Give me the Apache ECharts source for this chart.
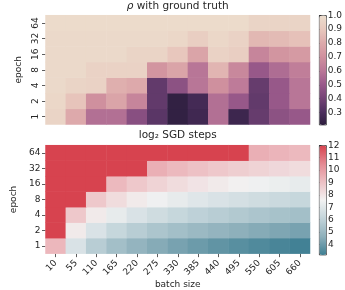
<!DOCTYPE html>
<html>
<head>
<meta charset="utf-8">
<script src="https://cdn.jsdelivr.net/npm/echarts@6/dist/echarts.min.js"></script>
<style>
  html, body { margin: 0; padding: 0; background: #fff; }
  #chart { width: 345px; height: 290px; }
</style>
</head>
<body>
<div id="chart"></div>
<script>
// data
const batchSizes = ['10', '55', '110', '165', '220', '275', '330', '385', '440', '495', '550', '605', '660'];
const epochs = ['1', '2', '4', '8', '16', '32', '64'];

// rho with ground truth, one row per epoch (1 .. 64)
const rhoEpoch1 = [0.96, 0.80, 0.58, 0.58, 0.46, 0.34, 0.23, 0.27, 0.58, 0.26, 0.37, 0.47, 0.50];
const rhoEpoch2 = [0.97, 0.89, 0.70, 0.78, 0.66, 0.36, 0.23, 0.28, 0.58, 0.50, 0.36, 0.50, 0.60];
const rhoEpoch4 = [0.98, 0.96, 0.95, 0.82, 0.80, 0.36, 0.47, 0.60, 0.70, 0.62, 0.37, 0.50, 0.60];
const rhoEpoch8 = [0.98, 0.98, 0.95, 0.95, 0.95, 0.72, 0.78, 0.60, 0.84, 0.67, 0.50, 0.57, 0.63];
const rhoEpoch16 = [0.98, 0.98, 0.98, 0.98, 0.96, 0.96, 0.90, 0.78, 0.95, 0.93, 0.66, 0.72, 0.74];
const rhoEpoch32 = [0.98, 0.98, 0.98, 0.98, 0.98, 0.98, 0.97, 0.93, 0.97, 0.95, 0.85, 0.86, 0.88];
const rhoEpoch64 = [0.99, 0.99, 0.99, 0.99, 0.99, 0.99, 0.99, 0.99, 0.99, 0.99, 0.96, 0.96, 0.96];

// log2 SGD steps (red cells sit at the top of the scale)
const stepsEpoch1 = [9.3, 6.84, 5.84, 5.26, 4.84, 4.52, 4.26, 4.03, 3.84, 3.67, 3.52, 3.38, 3.26];
const stepsEpoch2 = [12, 7.84, 6.84, 6.26, 5.84, 5.52, 5.26, 5.03, 4.84, 4.67, 4.52, 4.38, 4.26];
const stepsEpoch4 = [12, 8.84, 7.84, 7.26, 6.84, 6.52, 6.26, 6.03, 5.84, 5.67, 5.52, 5.38, 5.26];
const stepsEpoch8 = [12, 12, 8.84, 8.26, 7.84, 7.52, 7.26, 7.03, 6.84, 6.67, 6.52, 6.38, 6.26];
const stepsEpoch16 = [12, 12, 12, 9.26, 8.84, 8.52, 8.26, 8.03, 7.84, 7.67, 7.52, 7.38, 7.26];
const stepsEpoch32 = [12, 12, 12, 12, 12, 9.52, 9.26, 9.03, 8.84, 8.67, 8.52, 8.38, 8.26];
const stepsEpoch64 = [12, 12, 12, 12, 12, 12, 12, 12, 12, 12, 9.52, 9.38, 9.26];

const rhoTicks = [0.3, 0.4, 0.5, 0.6, 0.7, 0.8, 0.9, 1.0];
const stepTicks = [4, 5, 6, 7, 8, 9, 10, 11, 12];

const rhoRows = [rhoEpoch1, rhoEpoch2, rhoEpoch4, rhoEpoch8, rhoEpoch16, rhoEpoch32, rhoEpoch64];
const stepRows = [stepsEpoch1, stepsEpoch2, stepsEpoch4, stepsEpoch8, stepsEpoch16, stepsEpoch32, stepsEpoch64];

function toCells(rows) {
  const out = [];
  rows.forEach((row, i) => row.forEach((v, j) => out.push([j, i, v])));
  return out;
}

const FONT = 'DejaVu Sans';
const INK = '#262626';

const chart = echarts.init(document.getElementById('chart'), null, { renderer: 'canvas' });

const heatTop = 15.2, heatH = 109.3, heatTop2 = 145.2;
const gridLeft = 45.5, gridW = 264.5;
const cbLeft = 319, cbW = 7;

function catY(gridIndex, rotate) {
  return {
    type: 'category', gridIndex, data: epochs,
    axisLine: { show: false },
    axisTick: { show: true, length: 3.5, alignWithLabel: true, lineStyle: { color: '#333', width: 0.8 } },
    axisLabel: { fontFamily: FONT, fontSize: 9, color: INK, margin: 5, rotate },
    splitLine: { show: false },
    name: 'epoch', nameLocation: 'middle', nameGap: 22,
    nameTextStyle: { fontFamily: FONT, fontSize: 9, color: INK }
  };
}

function cbAxis(gridIndex, min, max, ticks, fmt) {
  return {
    type: 'value', gridIndex, min, max, position: 'right',
    axisLine: { show: false },
    axisTick: { show: true, length: 3.5, customValues: ticks, lineStyle: { color: '#333', width: 0.8 } },
    axisLabel: { fontFamily: FONT, fontSize: 9, color: INK, margin: 2, customValues: ticks, formatter: fmt },
    splitLine: { show: false }
  };
}

chart.setOption({
  animation: false,
  backgroundColor: '#fff',
  title: [
    {
      text: '{i|ρ} with ground truth', left: gridLeft + gridW / 2, top: 0.5, textAlign: 'center', padding: 0,
      textStyle: { fontFamily: FONT, fontSize: 10.5, fontWeight: 'normal', color: INK,
        rich: { i: { fontFamily: FONT, fontSize: 10.5, fontStyle: 'italic', color: INK } } }
    },
    {
      text: 'log₂ SGD steps', left: gridLeft + gridW / 2, top: 130, textAlign: 'center', padding: 0,
      textStyle: { fontFamily: FONT, fontSize: 10.5, fontWeight: 'normal', color: INK }
    }
  ],
  grid: [
    { left: gridLeft, top: heatTop, width: gridW, height: heatH },
    { left: gridLeft, top: heatTop2, width: gridW, height: heatH },
    { left: cbLeft, top: heatTop, width: cbW, height: heatH },
    { left: cbLeft, top: heatTop2, width: cbW, height: heatH }
  ],
  xAxis: [
    { type: 'category', gridIndex: 0, data: batchSizes, axisLine: { show: false },
      axisTick: { show: false }, axisLabel: { show: false }, splitLine: { show: false } },
    { type: 'category', gridIndex: 1, data: batchSizes, axisLine: { show: false },
      axisTick: { show: true, length: 3.5, alignWithLabel: true, lineStyle: { color: '#333', width: 0.8 } },
      axisLabel: { fontFamily: FONT, fontSize: 9, color: INK, rotate: 45, margin: 8, interval: 0 },
      splitLine: { show: false },
      name: 'batch size', nameLocation: 'middle', nameGap: 25,
      nameTextStyle: { fontFamily: FONT, fontSize: 9, color: INK } },
    { type: 'value', gridIndex: 2, show: false },
    { type: 'value', gridIndex: 3, show: false }
  ],
  yAxis: [
    catY(0, 90),
    catY(1, 0),
    cbAxis(2, 0.215, 1.0, rhoTicks, v => v.toFixed(1)),
    cbAxis(3, 3.2, 12, stepTicks, v => String(Math.round(v)))
  ],
  visualMap: [
    {
      type: 'continuous', seriesIndex: 0, min: 0.215, max: 1.0, calculable: false,
      orient: 'vertical', left: cbLeft, top: heatTop, itemWidth: cbW, itemHeight: heatH,
      padding: 0, text: null, showLabel: false, borderColor: '#222', borderWidth: 0.8,
      inRange: { color: ['#2d1e3e', '#4f3060', '#764577', '#9a5a8b', '#bb7898', '#d0919e', '#ddaaab', '#e8c8bd', '#ecddcd'] }
    },
    {
      type: 'continuous', seriesIndex: 1, min: 3.2, max: 12, calculable: false,
      orient: 'vertical', left: cbLeft, top: heatTop2, itemWidth: cbW, itemHeight: heatH,
      padding: 0, text: null, showLabel: false, borderColor: '#222', borderWidth: 0.8,
      inRange: { color: ['#3f7f93', '#8eb0bb', '#c2d4da', '#f2f2f2', '#edc0c4', '#e48a93', '#d7434f'] }
    }
  ],
  series: [
    { type: 'heatmap', xAxisIndex: 0, yAxisIndex: 0, data: toCells(rhoRows),
      itemStyle: { borderWidth: 0 }, emphasis: { disabled: true } },
    { type: 'heatmap', xAxisIndex: 1, yAxisIndex: 1, data: toCells(stepRows),
      itemStyle: { borderWidth: 0 }, emphasis: { disabled: true } }
  ]
});
</script>
</body>
</html>
